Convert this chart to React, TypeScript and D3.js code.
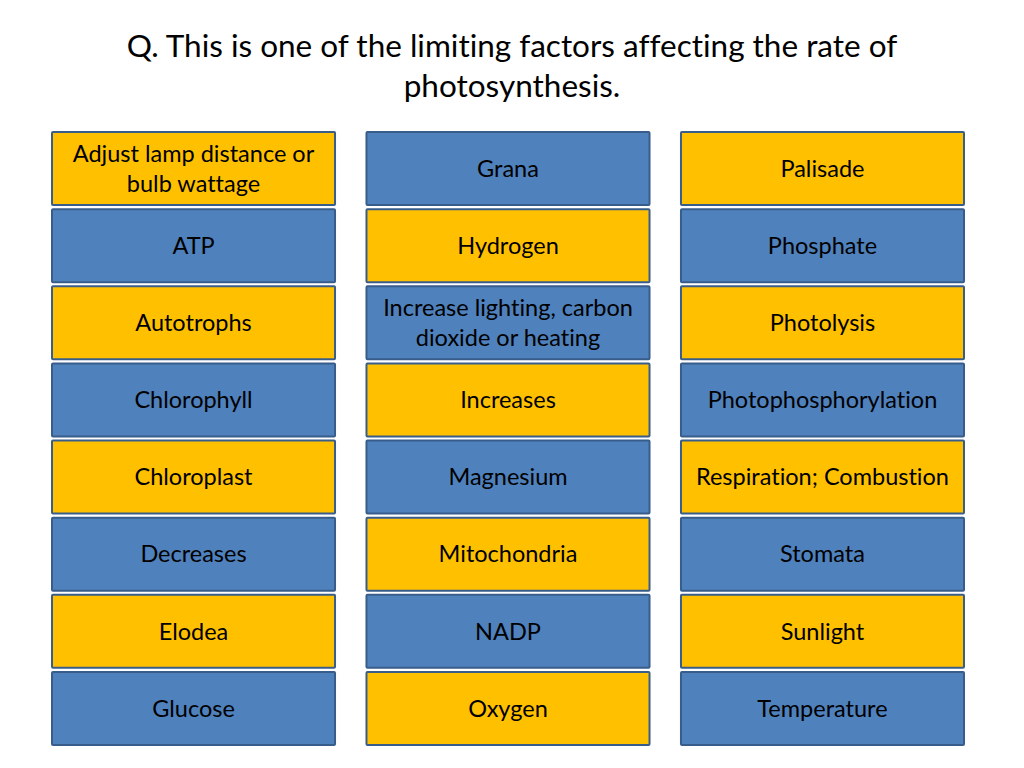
import React from "react";
import * as d3 from "d3";

const titleLines = [
  "Q. This is one of the limiting factors affecting the rate of",
  "photosynthesis.",
];

const column1 = [
  "Adjust lamp distance or\nbulb wattage",
  "ATP",
  "Autotrophs",
  "Chlorophyll",
  "Chloroplast",
  "Decreases",
  "Elodea",
  "Glucose",
];
const column2 = [
  "Grana",
  "Hydrogen",
  "Increase lighting, carbon\ndioxide or heating",
  "Increases",
  "Magnesium",
  "Mitochondria",
  "NADP",
  "Oxygen",
];
const column3 = [
  "Palisade",
  "Phosphate",
  "Photolysis",
  "Photophosphorylation",
  "Respiration; Combustion",
  "Stomata",
  "Sunlight",
  "Temperature",
];

const columns = [column1, column2, column3];
const YELLOW = "#FFC000";
const BLUE = "#4F81BD";
const BORDER = "#385D8A";
const FONT = "Lato, 'Open Sans', sans-serif";

export default function App() {
  const W = 1024;
  const H = 768;
  const x = d3
    .scaleBand<number>()
    .domain([0, 1, 2])
    .range([52, 964])
    .paddingInner(0.1);
  const y = d3
    .scaleBand<number>()
    .domain(d3.range(8))
    .range([132, 745])
    .paddingInner(0.054);

  return (
    <svg
      width={W}
      height={H}
      style={{ position: "absolute", left: 0, top: 0, background: "#fff" }}
    >
      <rect x={0} y={0} width={W} height={H} fill="#fff" />
      {titleLines.map((t, i) => (
        <text
          key={i}
          x={512}
          y={57 + i * 40}
          textAnchor="middle"
          fontFamily={FONT}
          fontSize={31.5}
          fill="#000"
          style={{ fontVariantLigatures: "none" }}
        >
          {t}
        </text>
      ))}
      {columns.map((col, ci) =>
        col.map((label, ri) => {
          const fill = (ri + (ci === 1 ? 1 : 0)) % 2 === 0 ? YELLOW : BLUE;
          const bx = x(ci)!;
          const by = y(ri)!;
          const bw = x.bandwidth();
          const bh = y.bandwidth();
          const lines = label.split("\n");
          const lh = 30;
          const cy = by + bh / 2;
          return (
            <g key={ci + "-" + ri}>
              <rect
                x={bx}
                y={by}
                width={bw}
                height={bh}
                fill={fill}
                stroke={BORDER}
                strokeWidth={2}
                rx={1}
              />
              {lines.map((ln, li) => (
                <text
                  key={li}
                  x={bx + bw / 2}
                  y={cy + (li - (lines.length - 1) / 2) * lh}
                  dy="0.35em"
                  textAnchor="middle"
                  fontFamily={FONT}
                  fontSize={23.5}
                  fill="#000"
                  style={{ fontVariantLigatures: "none" }}
                >
                  {ln}
                </text>
              ))}
            </g>
          );
        })
      )}
    </svg>
  );
}
